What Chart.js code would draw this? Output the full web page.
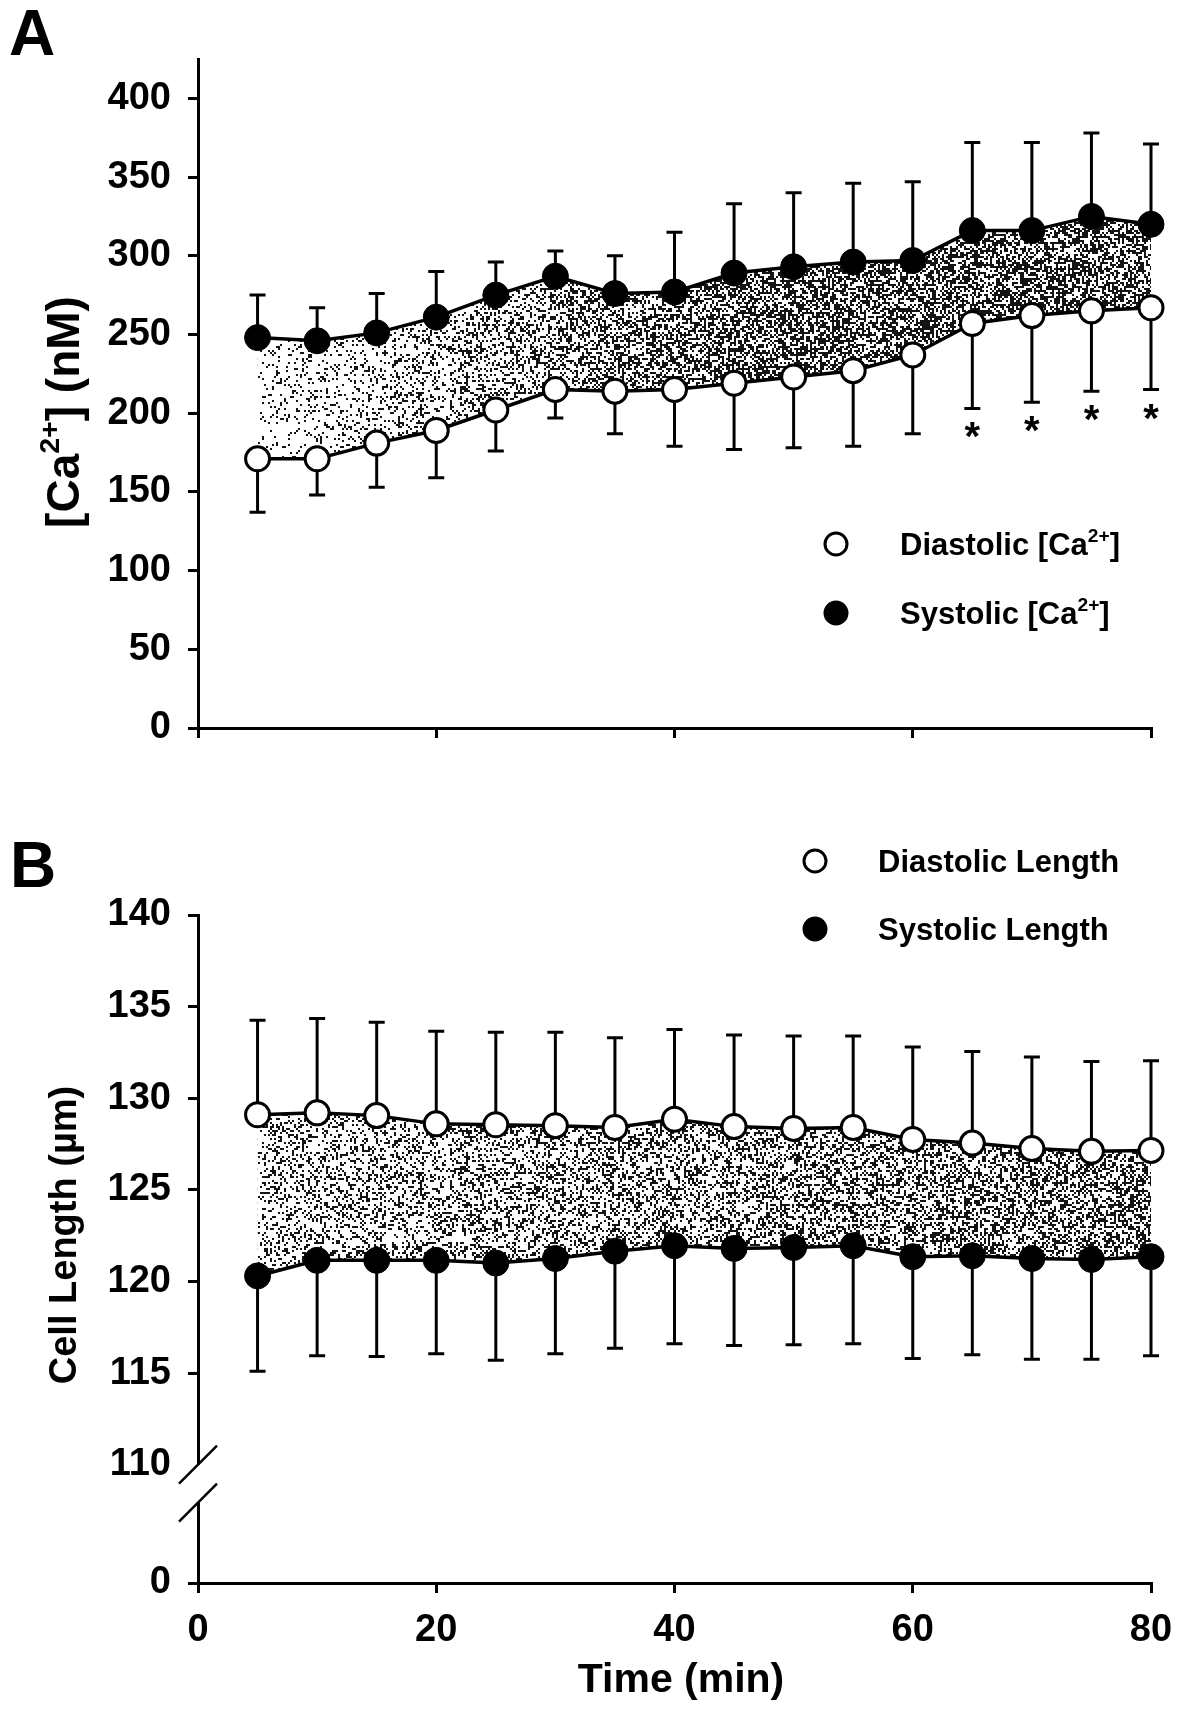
<!DOCTYPE html>
<html>
<head>
<meta charset="utf-8">
<script src="https://cdn.jsdelivr.net/npm/chart.js@4.4.1/dist/chart.umd.min.js"></script>
<style>
  html, body { margin: 0; padding: 0; background: #fff; }
  #wrap { position: relative; width: 1188px; height: 1712px; }
  canvas { position: absolute; left: 0; }
</style>
</head>
<body>
<div id="wrap">
  <canvas id="chartA" width="1188" height="780" style="top:0px"></canvas>
  <canvas id="chartB" width="1188" height="932" style="top:780px"></canvas>
</div>
<script>
// ------- DATA ---------- //

var times = [5, 10, 15, 20, 25, 30, 35, 40, 45, 50, 55, 60, 65, 70, 75, 80];
var xTicks = [0, 20, 40, 60, 80];

// panel A : [Ca2+] (nM), mean and SD
var diaCa   = [171, 171, 181, 189, 202, 215, 214, 215, 219, 223, 227, 237, 257, 262, 265, 267];
var diaCaSd = [34, 23, 28, 30, 26, 18, 27, 36, 42, 45, 48, 50, 54, 55, 51, 52];
var sysCa   = [248, 246, 251, 261, 275, 287, 276, 277, 289, 293, 296, 297, 316, 316, 325, 320];
var sysCaSd = [27, 21, 25, 29, 21, 16, 24, 38, 44, 47, 50, 50, 56, 56, 53, 51];
var sigCa   = [0, 0, 0, 0, 0, 0, 0, 0, 0, 0, 0, 0, 1, 1, 1, 1];
var ticksCa = [0, 50, 100, 150, 200, 250, 300, 350, 400];

// panel B : cell length (um), mean and SD
var diaLen   = [129.1, 129.2, 129.05, 128.6, 128.55, 128.5, 128.4, 128.85, 128.45, 128.35, 128.4, 127.75, 127.55, 127.25, 127.1, 127.15];
var diaLenSd = [5.15, 5.15, 5.1, 5.05, 5.05, 5.1, 4.9, 4.9, 5.0, 5.05, 5.0, 5.05, 5.0, 5.0, 4.9, 4.9];
var sysLen   = [120.3, 121.15, 121.15, 121.15, 121.0, 121.25, 121.65, 121.95, 121.8, 121.85, 121.95, 121.35, 121.4, 121.25, 121.2, 121.35];
var sysLenSd = [5.2, 5.2, 5.25, 5.1, 5.3, 5.2, 5.3, 5.35, 5.3, 5.3, 5.35, 5.55, 5.4, 5.5, 5.45, 5.4];
var ticksLen = [110, 115, 120, 125, 130, 135, 140];

// where the "0" of the broken axis sits on the scale
var lenZeroAt = 103.54;

var FONT = "'Liberation Sans', Arial, sans-serif";

function pts(ys) {
    return times.map(function(t, i) { return {x: t, y: ys[i]}; });
}

// ------- STIPPLE FILL ---------- //

function makeStipple(chart, d0, d1, tFull) {
    var w = chart.width, h = chart.height;
    var c = document.createElement('canvas');
    c.width = w; c.height = h;
    var g = c.getContext('2d');
    var img = g.createImageData(w, h);
    var x0 = chart.scales.x.getPixelForValue(times[0]);
    var x1 = chart.scales.x.getPixelForValue(tFull);
    var seed = 17;
    for (var by = 0; by < h; by += 2) {
        for (var bx = 0; bx < w; bx += 2) {
            seed = (Math.imul(seed, 1664525) + 1013904223) >>> 0;
            var f = Math.min(1, Math.max(0, (bx - x0) / (x1 - x0)));
            var v = (seed / 4294967296) < d0 + (d1 - d0) * f ? 20 : 255;
            for (var dy = 0; dy < 2; dy++) {
                for (var dx = 0; dx < 2; dx++) {
                    if (bx + dx >= w || by + dy >= h) continue;
                    var k = ((by + dy) * w + bx + dx) * 4;
                    img.data[k] = v; img.data[k + 1] = v; img.data[k + 2] = v; img.data[k + 3] = 255;
                }
            }
        }
    }
    g.putImageData(img, 0, 0);
    return chart.ctx.createPattern(c, 'no-repeat');
}

function stippleFor(d0, d1, tFull) {
    return function(ctx) {
        var ch = ctx.chart;
        if (!ch.chartArea) return 'rgba(0,0,0,0)';
        if (!ch.$stipple) ch.$stipple = makeStipple(ch, d0, d1, tFull);
        return ch.$stipple;
    };
}

// ------- TEXT HELPERS ---------- //

// parts: [{t: 'text'}, {t: '2+', sup: true}]
function partsWidth(ctx, parts, size, weight) {
    var w = 0;
    parts.forEach(function(p) {
        ctx.font = weight + ' ' + (p.sup ? size * 0.62 : size) + 'px ' + FONT;
        w += ctx.measureText(p.t).width;
    });
    return w;
}

function drawParts(ctx, parts, x, y, size, weight) {
    parts.forEach(function(p) {
        var s = p.sup ? size * 0.62 : size;
        ctx.font = weight + ' ' + s + 'px ' + FONT;
        ctx.fillText(p.t, x, p.sup ? y - size * 0.42 : y);
        x += ctx.measureText(p.t).width;
    });
}

// ------- PLUGINS ---------- //

var errorBars = {
    id: 'errorBars',
    beforeDatasetsDraw: function(chart) {
        var ctx = chart.ctx, yScale = chart.scales.y;
        chart.data.datasets.forEach(function(ds, i) {
            if (!ds.errors) return;
            var meta = chart.getDatasetMeta(i);
            ctx.save();
            ctx.strokeStyle = '#000';
            ctx.fillStyle = '#000';
            ctx.lineWidth = 3;
            meta.data.forEach(function(pt, j) {
                var end = yScale.getPixelForValue(ds.data[j].y + ds.errorDir * ds.errors[j]);
                ctx.beginPath();
                ctx.moveTo(pt.x, pt.y);
                ctx.lineTo(pt.x, end);
                ctx.moveTo(pt.x - 8, end);
                ctx.lineTo(pt.x + 8, end);
                ctx.stroke();
                if (ds.stars && ds.stars[j]) {
                    ctx.font = 'bold 40px ' + FONT;
                    ctx.textAlign = 'center';
                    ctx.textBaseline = 'alphabetic';
                    ctx.fillText('*', pt.x, end + 42);
                }
            });
            ctx.restore();
        });
    }
};

var decor = {
    id: 'decor',
    afterDraw: function(chart) {
        var o = chart.options.plugins.decor;
        var ctx = chart.ctx;
        ctx.save();
        ctx.fillStyle = '#000';
        ctx.textBaseline = 'alphabetic';
        ctx.textAlign = 'left';

        // panel letter
        ctx.font = 'bold 64px ' + FONT;
        ctx.fillText(o.letter, o.letterX, o.letterY);

        // y axis title, rotated
        ctx.save();
        ctx.translate(o.yTitleX, o.yTitleY);
        ctx.rotate(-Math.PI / 2);
        var tw = partsWidth(ctx, o.yTitle, o.yTitleSize, 'bold');
        drawParts(ctx, o.yTitle, -tw / 2, o.yTitleSize * 0.36, o.yTitleSize, 'bold');
        ctx.restore();

        // x axis title
        if (o.xTitle) {
            ctx.font = 'bold 41px ' + FONT;
            ctx.textAlign = 'center';
            ctx.fillText(o.xTitle, o.xTitleX, o.xTitleY);
            ctx.textAlign = 'left';
        }

        // legend
        o.legend.forEach(function(item) {
            ctx.beginPath();
            ctx.arc(o.legendX, item.y, 11, 0, Math.PI * 2);
            ctx.fillStyle = item.filled ? '#000' : '#fff';
            ctx.fill();
            ctx.lineWidth = 3;
            ctx.strokeStyle = '#000';
            ctx.stroke();
            ctx.fillStyle = '#000';
            drawParts(ctx, item.parts, o.legendTextX, item.y + 11, 31, 'bold');
        });

        // broken axis marks
        if (o.breakAt) {
            var x = chart.chartArea.left;
            var y1 = chart.scales.y.getPixelForValue(o.breakAt);
            var y2 = y1 + 38;
            ctx.fillStyle = '#fff';
            ctx.fillRect(x - 4, y1, 8, y2 - y1);
            ctx.strokeStyle = '#000';
            ctx.lineWidth = 2.5;
            [y1, y2].forEach(function(yy) {
                ctx.beginPath();
                ctx.moveTo(x - 19, yy + 19);
                ctx.lineTo(x + 19, yy - 19);
                ctx.stroke();
            });
        }
        ctx.restore();
    }
};

// ------- CHART BUILDERS ---------- //

function lineSet(ys, sd, dir, filled, extra) {
    var ds = {
        data: pts(ys),
        errors: sd,
        errorDir: dir,
        borderColor: '#000',
        borderWidth: 3.5,
        pointRadius: filled ? 13 : 12,
        pointBorderWidth: filled ? 1 : 3,
        pointBackgroundColor: filled ? '#000' : '#fff',
        pointBorderColor: '#000',
        tension: 0,
        clip: false,
        fill: false
    };
    for (var k in extra) ds[k] = extra[k];
    return ds;
}

function axisOpts() {
    return {
        type: 'linear',
        grid: { drawOnChartArea: false, color: '#000', lineWidth: 3, tickLength: 10 },
        border: { display: true, color: '#000', width: 3 },
        ticks: { color: '#000', font: { family: FONT, size: 38, weight: 'bold' } }
    };
}

// PANEL A
var xA = axisOpts();
xA.min = 0; xA.max = 80;
xA.ticks.display = false;
xA.afterBuildTicks = function(s) { s.ticks = xTicks.map(function(v) { return {value: v}; }); };
xA.afterFit = function(s) { s.height = 52; };

var yA = axisOpts();
yA.min = 0; yA.max = 425;
yA.ticks.padding = 17;
yA.afterBuildTicks = function(s) { s.ticks = ticksCa.map(function(v) { return {value: v}; }); };
yA.afterFit = function(s) { s.width = 198; };

new Chart(document.getElementById('chartA'), {
    type: 'line',
    data: {
        datasets: [
            lineSet(diaCa, diaCaSd, -1, false, { stars: sigCa }),
            lineSet(sysCa, sysCaSd, 1, true, { fill: 0, backgroundColor: stippleFor(0.08, 0.55, 45) })
        ]
    },
    options: {
        responsive: false,
        animation: false,
        devicePixelRatio: 1,
        layout: { padding: { top: 59, right: 37, left: 0, bottom: 0 } },
        scales: { x: xA, y: yA },
        plugins: {
            legend: { display: false },
            tooltip: { enabled: false },
            decor: {
                letter: 'A', letterX: 9, letterY: 55,
                yTitle: [{t: '[Ca'}, {t: '2+', sup: true}, {t: '] (nM)'}],
                yTitleSize: 46,
                yTitleX: 62, yTitleY: 412,
                legendX: 836, legendTextX: 900,
                legend: [
                    { y: 544, filled: false, parts: [{t: 'Diastolic [Ca'}, {t: '2+', sup: true}, {t: ']'}] },
                    { y: 613, filled: true, parts: [{t: 'Systolic [Ca'}, {t: '2+', sup: true}, {t: ']'}] }
                ]
            }
        }
    },
    plugins: [errorBars, decor]
});

// PANEL B
var xB = axisOpts();
xB.min = 0; xB.max = 80;
xB.ticks.padding = 15;
xB.afterBuildTicks = function(s) { s.ticks = xTicks.map(function(v) { return {value: v}; }); };
xB.afterFit = function(s) { s.height = 129; };

var yB = axisOpts();
yB.min = lenZeroAt; yB.max = 140;
yB.ticks.padding = 17;
yB.ticks.callback = function(v) { return v < ticksLen[0] ? '0' : v; };
yB.grid.tickColor = function(c) { return c.tick && c.tick.value === ticksLen[0] ? 'rgba(0,0,0,0)' : '#000'; };
yB.afterBuildTicks = function(s) { s.ticks = [lenZeroAt].concat(ticksLen).map(function(v) { return {value: v}; }); };
yB.afterFit = function(s) { s.width = 198; };

new Chart(document.getElementById('chartB'), {
    type: 'line',
    data: {
        datasets: [
            lineSet(diaLen, diaLenSd, 1, false, {}),
            lineSet(sysLen, sysLenSd, -1, true, { fill: 0, backgroundColor: stippleFor(0.26, 0.46, 80) })
        ]
    },
    options: {
        responsive: false,
        animation: false,
        devicePixelRatio: 1,
        layout: { padding: { top: 135, right: 37, left: 0, bottom: 0 } },
        scales: { x: xB, y: yB },
        plugins: {
            legend: { display: false },
            tooltip: { enabled: false },
            decor: {
                letter: 'B', letterX: 10, letterY: 107,
                yTitle: [{t: 'Cell Length (\u00b5m)'}],
                yTitleSize: 38,
                yTitleX: 62, yTitleY: 455,
                xTitle: 'Time (min)', xTitleX: 681, xTitleY: 912,
                breakAt: ticksLen[0],
                legendX: 815, legendTextX: 878,
                legend: [
                    { y: 81, filled: false, parts: [{t: 'Diastolic Length'}] },
                    { y: 149, filled: true, parts: [{t: 'Systolic Length'}] }
                ]
            }
        }
    },
    plugins: [errorBars, decor]
});
</script>
</body>
</html>
